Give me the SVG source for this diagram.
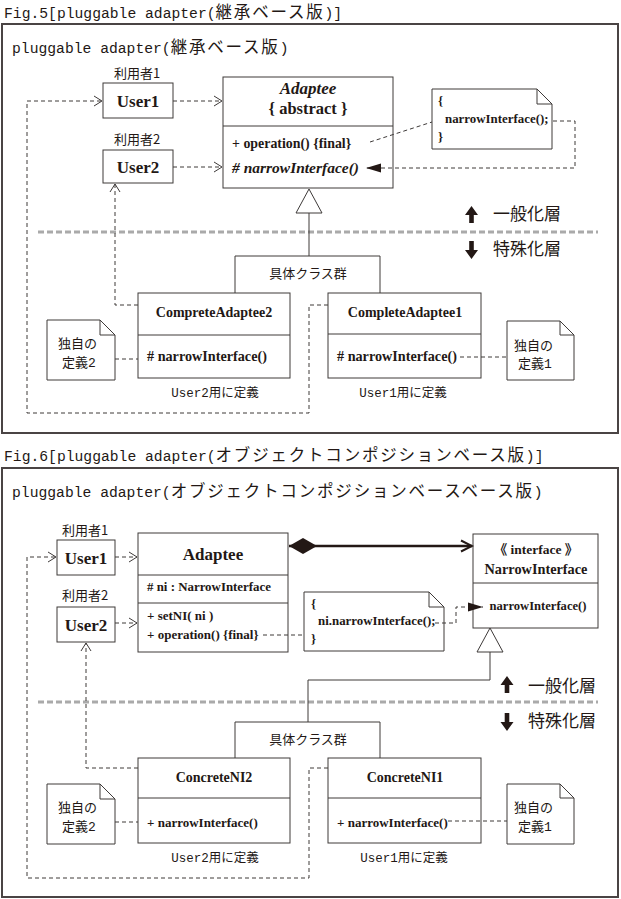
<svg xmlns="http://www.w3.org/2000/svg" width="621" height="899" viewBox="0 0 621 899">
<defs>
<style>
.frame{fill:#fff;stroke:#4a4444;stroke-width:2}
.box{fill:#fff;stroke:#3e3a39;stroke-width:1}
.ln{fill:none;stroke:#3e3a39;stroke-width:1}
.dash{fill:none;stroke:#3e3a39;stroke-width:1;stroke-dasharray:4,3}
.sep{fill:none;stroke:#aaaaaa;stroke-width:3;stroke-dasharray:6,3}
.mono{font-family:"Liberation Mono","Noto Sans CJK JP",monospace;fill:#231815}
.jp{font-family:"Noto Sans CJK JP",sans-serif;fill:#231815}
.ser{font-family:"Liberation Serif","Noto Sans CJK JP",serif;font-weight:bold;fill:#231815}
.big{font-size:14.7px}
.jw{font-family:"Noto Sans CJK JP",sans-serif;font-size:16.5px;letter-spacing:1.8px}
.c{text-anchor:middle}
</style>
<marker id="open" markerUnits="userSpaceOnUse" markerWidth="12" markerHeight="12" refX="9" refY="6" orient="auto">
<path d="M1,1 L9,6 L1,11" fill="none" stroke="#3e3a39" stroke-width="1"/>
</marker>
<marker id="openThick" markerUnits="userSpaceOnUse" markerWidth="14" markerHeight="14" refX="12" refY="7" orient="auto">
<path d="M1,1.5 L12,7 L1,12.5" fill="none" stroke="#231815" stroke-width="2"/>
</marker>
<marker id="fill" markerUnits="userSpaceOnUse" markerWidth="16" markerHeight="12" refX="15" refY="6" orient="auto">
<path d="M0,1.5 L15,6 L0,10.5 Z" fill="#231815"/>
</marker>
<marker id="diamond" markerUnits="userSpaceOnUse" markerWidth="30" markerHeight="18" refX="1" refY="9" orient="auto">
<path d="M1,9 L15,1 L29,9 L15,17 Z" fill="#231815"/>
</marker>
</defs>
<rect width="621" height="899" fill="#fff"/>

<!-- ===== Fig.5 ===== -->
<text class="mono big" x="4" y="18">Fig.5[pluggable adapter(<tspan class="jw">継承ベース版</tspan>)]</text>
<rect class="frame" x="2" y="24" width="616" height="409"/>
<text class="mono big" x="12" y="53">pluggable adapter(<tspan class="jw">継承ベース版</tspan>)</text>

<g id="f5-separator">
<path class="sep" d="M38,232 H598"/>
<path d="M471.5,206 L478,215 L473.8,215 L473.8,223 L469.2,223 L469.2,215 L465,215 Z" fill="#231815"/>
<text class="jp" x="493" y="220" font-size="17">一般化層</text>
<path d="M471.5,259 L478,250 L473.8,250 L473.8,241 L469.2,241 L469.2,250 L465,250 Z" fill="#231815"/>
<text class="jp" x="493" y="255" font-size="17">特殊化層</text>
</g>

<g id="f5-user1">
<text class="jp c" x="137" y="78" font-size="13">利用者1</text>
<rect class="box" x="103" y="83" width="70" height="35"/>
<text class="ser c" x="138" y="107" font-size="17">User1</text>
</g>
<g id="f5-user2">
<text class="jp c" x="137" y="144" font-size="13">利用者2</text>
<rect class="box" x="103" y="150" width="70" height="33"/>
<text class="ser c" x="138" y="173" font-size="17">User2</text>
</g>
<g id="f5-adaptee">
<rect class="box" x="223" y="77" width="170" height="111"/>
<path class="ln" d="M223,126 H393"/>
<text class="ser c" x="308" y="94" font-size="17" font-style="italic">Adaptee</text>
<text class="ser c" x="308" y="114" font-size="16.5">{ abstract }</text>
<text class="ser" x="232" y="148" font-size="13.9">+ operation() {final}</text>
<text class="ser" x="232" y="173" font-size="15.5" font-style="italic"># narrowInterface()</text>
</g>
<g id="f5-note">
<path class="box" d="M432,89 H537 L552,104 V149 H432 Z"/>
<path class="ln" d="M537,89 V104 H552"/>
<text class="ser" x="438" y="105" font-size="12.9">{</text>
<text class="ser" x="445" y="123" font-size="12.9">narrowInterface();</text>
<text class="ser" x="438" y="141" font-size="12.9">}</text>
</g>
<g id="f5-group">
<path class="box" d="M235,293 V256 H380 V293"/>
<text class="jp c" x="308" y="278" font-size="13">具体クラス群</text>
</g>
<g id="f5-ca2">
<rect class="box" x="138" y="293" width="152" height="85"/>
<path class="ln" d="M138,335 H290"/>
<text class="ser c" x="214" y="317" font-size="14">CompreteAdaptee2</text>
<text class="ser" x="147" y="361" font-size="14.2"># narrowInterface()</text>
<text class="mono c" x="215" y="397" font-size="12.5">User2<tspan class="jp">用に定義</tspan></text>
</g>
<g id="f5-ca1">
<rect class="box" x="328" y="293" width="153" height="85"/>
<path class="ln" d="M328,334 H481"/>
<text class="ser c" x="405" y="317" font-size="14">CompleteAdaptee1</text>
<text class="ser" x="337" y="361" font-size="14.2"># narrowInterface()</text>
<text class="mono c" x="403" y="397" font-size="12.5">User1<tspan class="jp">用に定義</tspan></text>
</g>
<g id="f5-note2">
<path class="box" d="M47,320 H100 L115,335 V380 H47 Z"/>
<path class="ln" d="M100,320 V335 H115"/>
<text class="jp" x="58" y="348" font-size="13">独自の</text>
<text class="mono" x="62" y="367" font-size="13"><tspan class="jp">定義</tspan>2</text>
</g>
<g id="f5-note1">
<path class="box" d="M507,321 H560 L574,335 V380 H507 Z"/>
<path class="ln" d="M560,321 V335 H574"/>
<text class="jp" x="514" y="350" font-size="13">独自の</text>
<text class="mono" x="518" y="368" font-size="13"><tspan class="jp">定義</tspan>1</text>
</g>

<g id="f5-connectors">
<path class="dash" d="M328,305 H309 V413 H27 V101 H102" marker-end="url(#open)"/>
<path class="dash" d="M173,101 H222" marker-end="url(#open)"/>
<path class="dash" d="M173,167 H222" marker-end="url(#open)"/>
<path class="dash" d="M138,305 H115 V184" marker-end="url(#open)"/>
<path class="dash" d="M370,142 L432,122"/>
<path class="dash" d="M553,121 H575 V168 H366" marker-end="url(#fill)"/>
<path class="dash" d="M115,359 H138"/>
<path class="dash" d="M460,357 H507"/>
<path class="ln" d="M309,213 V256"/>
<path class="ln" d="M309,189 L322,213 H296 Z" fill="#fff"/>
</g>

<!-- ===== Fig.6 ===== -->
<text class="mono big" x="4" y="461">Fig.6[pluggable adapter(<tspan class="jw">オブジェクトコンポジションベース版</tspan>)]</text>
<rect class="frame" x="2" y="468" width="616" height="429"/>
<text class="mono big" x="12" y="497">pluggable adapter(<tspan class="jw">オブジェクトコンポジションベースベース版</tspan>)</text>

<g id="f6-separator">
<path class="sep" d="M38,702 H598"/>
<path d="M507,676 L513.5,685 L509.3,685 L509.3,693 L504.7,693 L504.7,685 L500.5,685 Z" fill="#231815"/>
<text class="jp" x="528" y="692" font-size="17">一般化層</text>
<path d="M507,731 L513.5,722 L509.3,722 L509.3,713 L504.7,713 L504.7,722 L500.5,722 Z" fill="#231815"/>
<text class="jp" x="528" y="727" font-size="17">特殊化層</text>
</g>

<g id="f6-user1">
<text class="jp c" x="85" y="535" font-size="13">利用者1</text>
<rect class="box" x="57" y="540" width="58" height="35"/>
<text class="ser c" x="86" y="564" font-size="17">User1</text>
</g>
<g id="f6-user2">
<text class="jp c" x="85" y="600" font-size="13">利用者2</text>
<rect class="box" x="57" y="607" width="58" height="35"/>
<text class="ser c" x="86" y="631" font-size="17">User2</text>
</g>
<g id="f6-adaptee">
<rect class="box" x="138" y="533" width="150" height="119"/>
<path class="ln" d="M138,575 H288 M138,603 H288"/>
<text class="ser c" x="213" y="560" font-size="17">Adaptee</text>
<text class="ser" x="147" y="591" font-size="12.9"># ni : NarrowInterface</text>
<text class="ser" x="147" y="620" font-size="13">+ setNI( ni )</text>
<text class="ser" x="147" y="639" font-size="13">+ operation() {final}</text>
</g>
<g id="f6-narrow">
<rect class="box" x="473" y="534" width="125" height="94"/>
<path class="ln" d="M473,583 H598"/>
<text class="ser c" x="536" y="554" font-size="13.5">《 interface 》</text>
<text class="ser c" x="536" y="574" font-size="14.3">NarrowInterface</text>
<text class="ser c" x="538" y="610" font-size="12.6">narrowInterface()</text>
</g>
<g id="f6-note">
<path class="box" d="M304,592 H429 L444,607 V651 H304 Z"/>
<path class="ln" d="M429,592 V607 H444"/>
<text class="ser" x="311" y="608" font-size="12.9">{</text>
<text class="ser" x="318" y="625" font-size="12.9">ni.narrowInterface();</text>
<text class="ser" x="311" y="643" font-size="12.9">}</text>
</g>
<g id="f6-group">
<path class="box" d="M235,758 V722 H380 V758"/>
<text class="jp c" x="308" y="744" font-size="13">具体クラス群</text>
</g>
<g id="f6-cn2">
<rect class="box" x="138" y="758" width="152" height="85"/>
<path class="ln" d="M138,798 H290"/>
<text class="ser c" x="214" y="782" font-size="14">ConcreteNI2</text>
<text class="ser" x="147" y="827" font-size="13">+ narrowInterface()</text>
<text class="mono c" x="215" y="862" font-size="12.5">User2<tspan class="jp">用に定義</tspan></text>
</g>
<g id="f6-cn1">
<rect class="box" x="328" y="758" width="153" height="85"/>
<path class="ln" d="M328,798 H481"/>
<text class="ser c" x="405" y="782" font-size="14">ConcreteNI1</text>
<text class="ser" x="337" y="827" font-size="13">+ narrowInterface()</text>
<text class="mono c" x="404" y="862" font-size="12.5">User1<tspan class="jp">用に定義</tspan></text>
</g>
<g id="f6-note2">
<path class="box" d="M47,784 H100 L115,799 V844 H47 Z"/>
<path class="ln" d="M100,784 V799 H115"/>
<text class="jp" x="58" y="812" font-size="13">独自の</text>
<text class="mono" x="62" y="831" font-size="13"><tspan class="jp">定義</tspan>2</text>
</g>
<g id="f6-note1">
<path class="box" d="M507,784 H560 L574,798 V844 H507 Z"/>
<path class="ln" d="M560,784 V798 H574"/>
<text class="jp" x="514" y="812" font-size="13">独自の</text>
<text class="mono" x="518" y="831" font-size="13"><tspan class="jp">定義</tspan>1</text>
</g>

<g id="f6-connectors">
<path class="dash" d="M328,768 H309 V878 H27 V557 H56" marker-end="url(#open)"/>
<path class="dash" d="M115,557 H137" marker-end="url(#open)"/>
<path class="dash" d="M115,623 H137" marker-end="url(#open)"/>
<path class="dash" d="M138,768 H86 V643" marker-end="url(#open)"/>
<path fill="none" stroke="#231815" stroke-width="2.5" d="M289,546 H472" marker-start="url(#diamond)" marker-end="url(#openThick)"/>
<path class="dash" d="M263,635 H304"/>
<path class="dash" d="M435,623 H456 V607 H483" marker-end="url(#fill)"/>
<path class="dash" d="M115,822 H138"/>
<path class="dash" d="M448,821 H507"/>
<path class="ln" d="M490,652 V680 H308 V722"/>
<path class="ln" d="M490,628 L503,652 H477 Z" fill="#fff"/>
</g>
</svg>
